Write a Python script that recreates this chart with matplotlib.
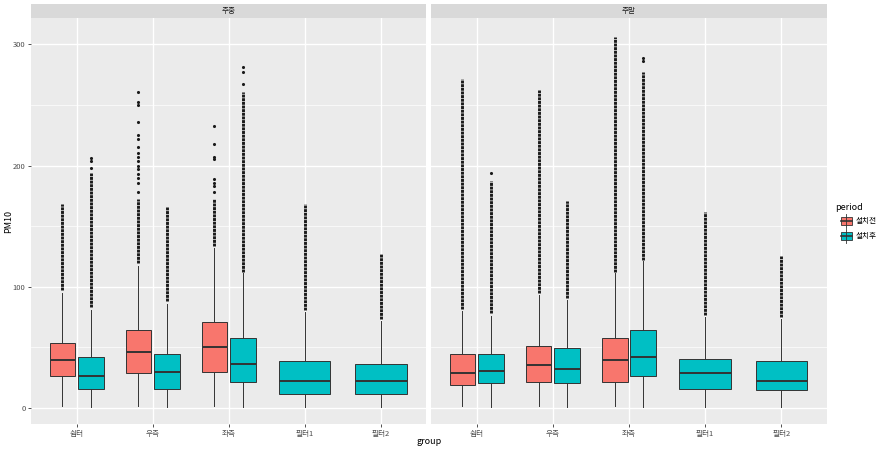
import numpy as np
import matplotlib
matplotlib.use('Agg')
import matplotlib.pyplot as plt
from matplotlib.patches import Rectangle

plt.rcParams['font.family'] = ['Noto Sans CJK KR', 'DejaVu Sans']

# ── 데이터 ─────────────────────────────────────
groups  = ['쉼터', '우측', '좌측', '필터1', '필터2']
periods = ['설치전', '설치후']
facets  = ['주중', '주말']

# 주중
wd_pre_q1  = [26, 29, 30, None, None]
wd_pre_med = [39.6, 46, 50.3, None, None]
wd_pre_q3  = [54, 64.5, 71, None, None]
wd_pre_lo  = [2, 2, 2, None, None]
wd_pre_hi  = [95, 117, 132, None, None]
wd_pre_dense  = [(97, 168), (120, 172), (134, 172), None, None]
wd_pre_sparse = [[], [261, 252, 250, 236, 225, 222, 215, 210, 207, 204, 200, 197, 193, 190, 186, 178],
                 [233, 218, 207, 205, 189, 186, 183, 178], [], []]

wd_post_q1  = [16, 16, 21.4, 11.8, 11.8]
wd_post_med = [26, 29.4, 36.3, 22, 22]
wd_post_q3  = [42, 44.5, 58, 38.7, 36]
wd_post_lo  = [1, 1, 1, 1, 1]
wd_post_hi  = [81, 86, 111, 79, 72]
wd_post_dense  = [(83, 194), (88, 166), (112, 261), (81, 168), (73, 127)]
wd_post_sparse = [[206, 204, 198], [], [281, 277, 267], [], []]

# 주말
we_pre_q1  = [19.2, 21.4, 21.4, None, None]
we_pre_med = [29.1, 35.4, 39.6, None, None]
we_pre_q3  = [44.2, 50.8, 57.7, None, None]
we_pre_lo  = [2, 2, 2, None, None]
we_pre_hi  = [80, 93, 111, None, None]
we_pre_dense  = [(82, 271), (95, 262), (112, 306), None, None]
we_pre_sparse = [[], [], [], [], []]

we_post_q1  = [20.9, 20.6, 26.1, 16, 14.8]
we_post_med = [30.5, 32.1, 42, 29.1, 22]
we_post_q3  = [44.2, 49.2, 64.5, 40.1, 38.7]
we_post_lo  = [1, 1, 1, 1, 1]
we_post_hi  = [76, 89, 121, 75, 73]
we_post_dense  = [(78, 187), (91, 171), (122, 277), (77, 162), (75, 125)]
we_post_sparse = [[194], [], [289, 286], [], []]

yticks = [0, 100, 200, 300]

# ── 스타일 ──────────────────────────────────────────
colors   = ['#F8766D', '#00BFC4']
panel_bg = '#EBEBEB'
strip_bg = '#D9D9D9'
dark     = '#333333'
W, H = 887, 451

fig = plt.figure(figsize=(W / 100, H / 100), dpi=100)


def px(x0, y0, x1, y1):
    return [x0 / W, 1 - y1 / H, (x1 - x0) / W, (y1 - y0) / H]


def draw_panel(ax, series):
    ax.set_facecolor(panel_bg)
    for s in ax.spines.values():
        s.set_visible(False)
    for y in [50, 150, 250]:
        ax.axhline(y, color='white', lw=0.5, zorder=0)
    for y in yticks:
        ax.axhline(y, color='white', lw=1.0, zorder=0)
    for i in range(len(groups)):
        ax.axvline(i, color='white', lw=1.0, zorder=0)

    n_per = [sum(s[0][i] is not None for s in series) for i in range(len(groups))]
    for k, (q1, med, q3, lo, hi, dense, sparse) in enumerate(series):
        for i in range(len(groups)):
            if q1[i] is None:
                continue
            if n_per[i] == 2:
                pos, wid = i + (-0.1875 if k == 0 else 0.1875), 0.3375
            else:
                pos, wid = i, 0.675
            st = dict(med=med[i], q1=q1[i], q3=q3[i], whislo=lo[i], whishi=hi[i], fliers=[])
            ax.bxp([st], positions=[pos], widths=[wid], patch_artist=True, showcaps=False,
                   boxprops=dict(facecolor=colors[k], edgecolor=dark, lw=0.7),
                   whiskerprops=dict(color=dark, lw=0.7),
                   medianprops=dict(color=dark, lw=1.4),
                   manage_ticks=False, zorder=2)
            if dense[i] is not None:
                ax.vlines(pos, dense[i][0], dense[i][1], color='#1A1A1A', lw=2.1,
                          linestyles=(0, (1.0, 0.25)), zorder=3)
            if sparse[i]:
                ax.scatter([pos] * len(sparse[i]), sparse[i], s=5.0, color='#1A1A1A',
                           lw=0, zorder=3)

    ax.set_xlim(-0.6, len(groups) - 0.4)
    ax.set_ylim(-13.2, 321.7)
    ax.set_xticks(range(len(groups)))
    ax.set_xticklabels(groups)
    ax.set_yticks(yticks)
    ax.tick_params(length=2.5, width=0.6, color=dark, labelsize=5.5, labelcolor='#4D4D4D', pad=1.5)


wd = [(wd_pre_q1, wd_pre_med, wd_pre_q3, wd_pre_lo, wd_pre_hi, wd_pre_dense, wd_pre_sparse),
      (wd_post_q1, wd_post_med, wd_post_q3, wd_post_lo, wd_post_hi, wd_post_dense, wd_post_sparse)]
we = [(we_pre_q1, we_pre_med, we_pre_q3, we_pre_lo, we_pre_hi, we_pre_dense, we_pre_sparse),
      (we_post_q1, we_post_med, we_post_q3, we_post_lo, we_post_hi, we_post_dense, we_post_sparse)]

panels = [(31, 426.5), (431, 827)]
for (x0, x1), name, data in zip(panels, facets, [wd, we]):
    ax = fig.add_axes(px(x0, 18, x1, 424))
    draw_panel(ax, data)
    if x0 > 100:
        ax.tick_params(axis='y', left=False, labelleft=False)
    sax = fig.add_axes(px(x0, 4, x1, 18))
    sax.set_facecolor(strip_bg)
    sax.set_xticks([]); sax.set_yticks([])
    for s in sax.spines.values():
        s.set_visible(False)
    sax.text(0.5, 0.5, name, ha='center', va='center', fontsize=5.5, color='#1A1A1A',
             transform=sax.transAxes)

fig.text(429 / W, 1 - 442 / H, 'group', ha='center', va='center', fontsize=6.5, color='black')
fig.text(9 / W, 1 - 221 / H, 'PM10', ha='center', va='center', rotation=90, fontsize=6.5, color='black')

# ── 범례 ────────────────────────────────────────────
lax = fig.add_axes([0, 0, 1, 1])
lax.set_xlim(0, W); lax.set_ylim(H, 0)
lax.axis('off')
lax.text(835, 207, 'period', ha='left', va='center', fontsize=6.5, color='black')
for k, (lab, cy) in enumerate(zip(periods, [221, 236])):
    cx = 846.5
    lax.plot([cx, cx], [cy - 7, cy + 7], color=dark, lw=0.6)
    lax.add_patch(Rectangle((cx - 5.5, cy - 3.8), 11, 7.6, facecolor=colors[k], edgecolor=dark, lw=0.6))
    lax.plot([cx - 5.5, cx + 5.5], [cy, cy], color=dark, lw=1.2)
    lax.text(856, cy, lab, ha='left', va='center', fontsize=5.5, color='black')

fig.savefig('out.png', dpi=100)
